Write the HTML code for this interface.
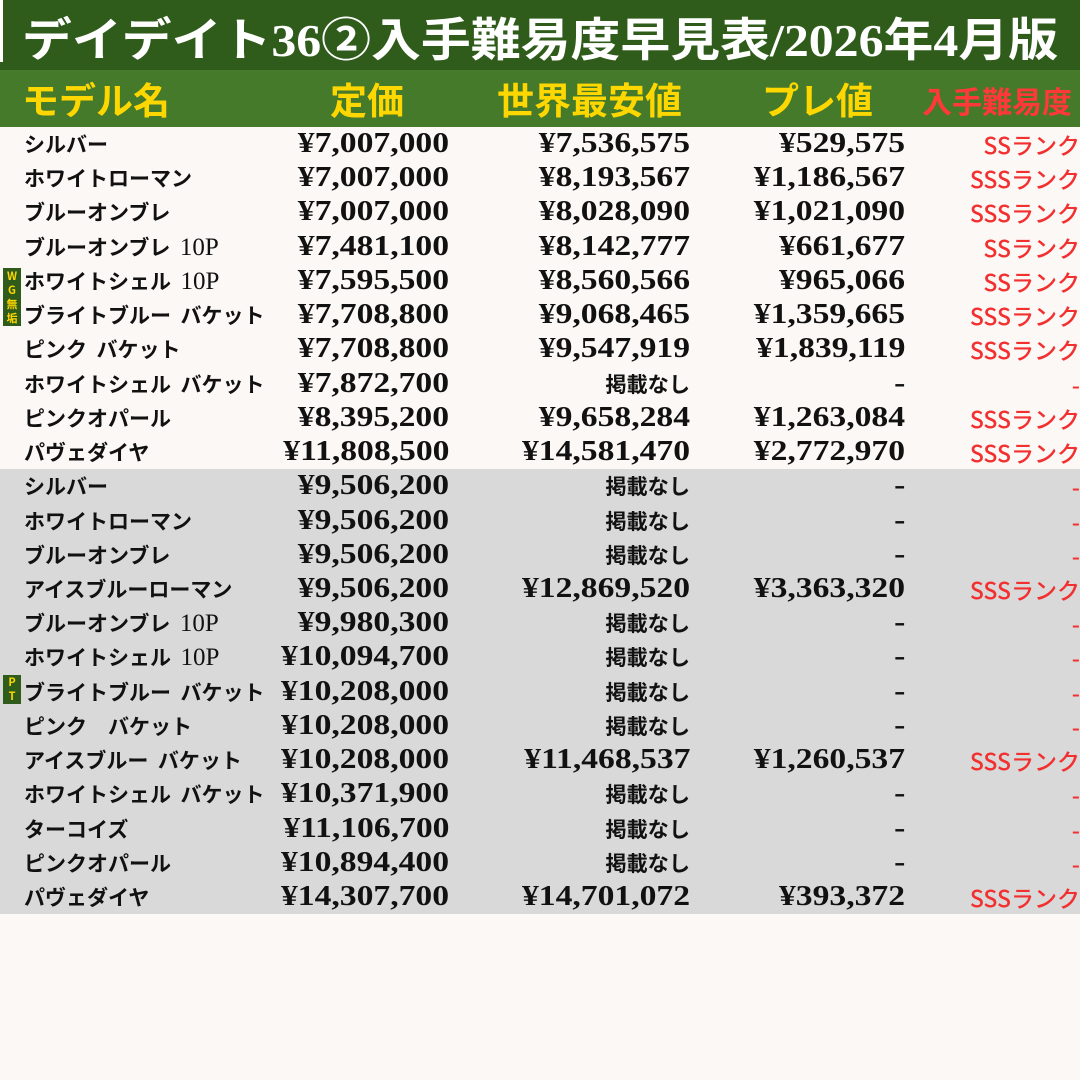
<!DOCTYPE html>
<html><head><meta charset="utf-8"><style>
*{margin:0;padding:0;box-sizing:border-box}
body{width:1080px;height:1080px;background:#fcf8f6;position:relative;overflow:hidden;font-family:"Liberation Serif","Noto Serif CJK SC",serif}
.title{position:absolute;left:0;top:0;width:1080px;height:70px;background:#2f5b1b}
.title .bar{position:absolute;left:0;top:0;width:3px;height:62px;background:#fff}
.title span{position:absolute;left:22px;top:4px;font-size:46px;font-weight:bold;color:#fff;white-space:nowrap;font-family:"Liberation Serif","Noto Sans CJK JP",sans-serif;transform:scaleX(1.084);transform-origin:left center}
.head{position:absolute;left:0;top:70px;width:1080px;height:57px;background:#447a2a}
.head div{position:absolute;top:6px;font-size:37px;font-weight:bold;color:#ffd700;font-family:"Noto Sans CJK JP",sans-serif;white-space:nowrap;line-height:44px}
.row{position:absolute;left:0;width:1080px;height:34.23px}
.row div{position:absolute;top:0;line-height:34px;white-space:nowrap}
.n{left:24px;font-family:"Noto Sans CJK JP",sans-serif;font-weight:bold;font-size:21px;color:#111}
.p{font-size:28px;font-weight:bold;color:#111;text-align:right;transform:scaleX(1.2);transform-origin:right center}
.c1{right:631px}.c2{right:390px}.c3{right:175px}
.r{right:0;color:#f23030;font-family:"Noto Sans CJK JP",sans-serif;font-size:23px;font-weight:500;text-align:right}
.nn{font-family:"Noto Sans CJK JP",sans-serif;font-size:21px;font-weight:bold;display:inline-block;transform:scaleX(0.84);transform-origin:right center}
.gray{background:#d9d9d9}
.badge{position:absolute;left:3px;width:18px;background:#2f5b1b;color:#ffd700;font-size:11px;font-family:"Noto Sans CJK JP",sans-serif;text-align:center;line-height:14px;font-weight:bold}
.tp{font-family:"Liberation Serif",serif;font-size:25px;font-weight:normal}
</style></head><body>
<div class="title"><div class="bar"></div><span>デイデイト36②入手難易度早見表/2026年4月版</span></div>
<div class="head">
<div style="left:22px">モデル名</div>
<div style="left:330px">定価</div>
<div style="left:497px">世界最安値</div>
<div style="left:762px">プレ値</div>
<div style="left:922px;color:#ff3838;font-size:30px;top:8px">入手難易度</div>
</div>
<div id="rows"></div>
<div class="badge" style="top:268px;height:58px;padding-top:1px">W<br>G<br>無<br>垢</div>
<div class="badge" style="top:675px;height:29px;padding-top:0px">P<br>T</div>
<script>
const d=[
["シルバー","¥7,007,000","¥7,536,575","¥529,575","SSランク"],
["ホワイトローマン","¥7,007,000","¥8,193,567","¥1,186,567","SSSランク"],
["ブルーオンブレ","¥7,007,000","¥8,028,090","¥1,021,090","SSSランク"],
["ブルーオンブレ 10P","¥7,481,100","¥8,142,777","¥661,677","SSランク"],
["ホワイトシェル 10P","¥7,595,500","¥8,560,566","¥965,066","SSランク"],
["ブライトブルー バケット","¥7,708,800","¥9,068,465","¥1,359,665","SSSランク"],
["ピンク バケット","¥7,708,800","¥9,547,919","¥1,839,119","SSSランク"],
["ホワイトシェル バケット","¥7,872,700","掲載なし","-","-"],
["ピンクオパール","¥8,395,200","¥9,658,284","¥1,263,084","SSSランク"],
["パヴェダイヤ","¥11,808,500","¥14,581,470","¥2,772,970","SSSランク"],
["シルバー","¥9,506,200","掲載なし","-","-"],
["ホワイトローマン","¥9,506,200","掲載なし","-","-"],
["ブルーオンブレ","¥9,506,200","掲載なし","-","-"],
["アイスブルーローマン","¥9,506,200","¥12,869,520","¥3,363,320","SSSランク"],
["ブルーオンブレ 10P","¥9,980,300","掲載なし","-","-"],
["ホワイトシェル 10P","¥10,094,700","掲載なし","-","-"],
["ブライトブルー バケット","¥10,208,000","掲載なし","-","-"],
["ピンク　バケット","¥10,208,000","掲載なし","-","-"],
["アイスブルー バケット","¥10,208,000","¥11,468,537","¥1,260,537","SSSランク"],
["ホワイトシェル バケット","¥10,371,900","掲載なし","-","-"],
["ターコイズ","¥11,106,700","掲載なし","-","-"],
["ピンクオパール","¥10,894,400","掲載なし","-","-"],
["パヴェダイヤ","¥14,307,700","¥14,701,072","¥393,372","SSSランク"]];
let h="";
d.forEach((r,i)=>{
 const top=127+i*34.23;
 const name=r[0].replace(/ /g,'&nbsp;&nbsp;').replace(/10P/,'<span class="tp">10P</span>');
 const c2=r[2]=="掲載なし"?`<span class="nn">${r[2]}</span>`:r[2];
 h+=`<div class="row${i>=10?' gray':''}" style="top:${top}px"><div class="n">${name}</div><div class="p c1">${r[1]}</div><div class="p c2">${c2}</div><div class="p c3">${r[3]}</div><div class="r">${r[4]}</div></div>`;
});
document.getElementById("rows").innerHTML=h;
</script>
</body></html>
